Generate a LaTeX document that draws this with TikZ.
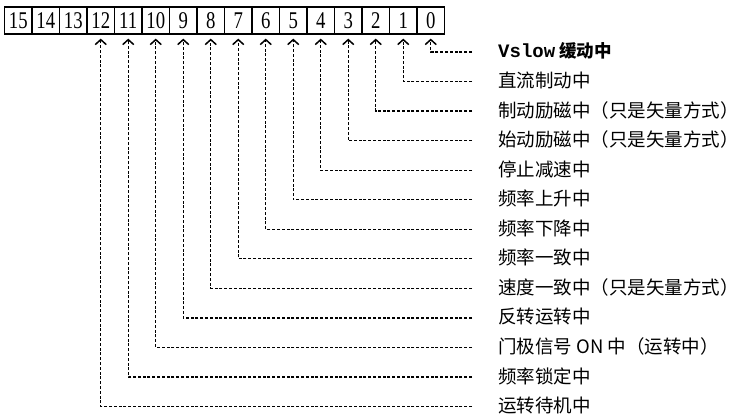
\documentclass[tikz,border=0pt]{standalone}
\usepackage{fontspec}
\setmainfont{Liberation Serif}
\newfontfamily\cjk{Noto Sans CJK SC}
\newfontfamily\monof{Liberation Mono}
\usetikzlibrary{arrows.meta}
\begin{document}
\begin{tikzpicture}[x=1pt,y=-1pt,
  cell/.style={draw, line width=1.7pt, minimum width=27.5pt, minimum height=26.5pt,
    inner sep=0pt, font=\fontsize{24}{24}\selectfont},
  lab/.style={anchor=west, inner sep=0pt, font=\cjk\fontsize{18.5}{20}\selectfont},
  conn/.style={line width=1.25pt, dash pattern=on 3pt off 1.8pt,
    -{Straight Barb[length=5pt,width=11pt,line width=1.5pt]}}]
\useasboundingbox (0,0) rectangle (749,414);
\foreach \b in {0,...,15}
  \node[cell] (b\b) at ({4.5+(15-\b+0.5)*27.5}, 20.5) {\scalebox{.78}[1]{\b}};
\node[lab] (t0) at (498, 51) {{\monof\bfseries\fontsize{19}{20}\selectfont Vslow}\hspace{4pt}{\bfseries\fontsize{17.5}{20}\selectfont 缓动中}};
\foreach \k/\t in {1/{直流制动中}, 2/{制动励磁中（只是矢量方式）}, 3/{始动励磁中（只是矢量方式）},
  4/{停止减速中}, 5/{频率上升中}, 6/{频率下降中}, 7/{频率一致中},
  8/{速度一致中（只是矢量方式）}, 9/{反转运转中}, 10/{门极信号 ON 中（运转中）},
  11/{频率锁定中}, 12/{运转待机中}}
  \node[lab] (t\k) at (498, {51+29.55*\k}) {\t};
\foreach \k in {0,...,12} {
  \coordinate (c\k) at (472, {52+29.55*\k});
  \draw[conn] (c\k) -| ([yshift=-4pt]b\k.south);
}
\end{tikzpicture}
\end{document}
